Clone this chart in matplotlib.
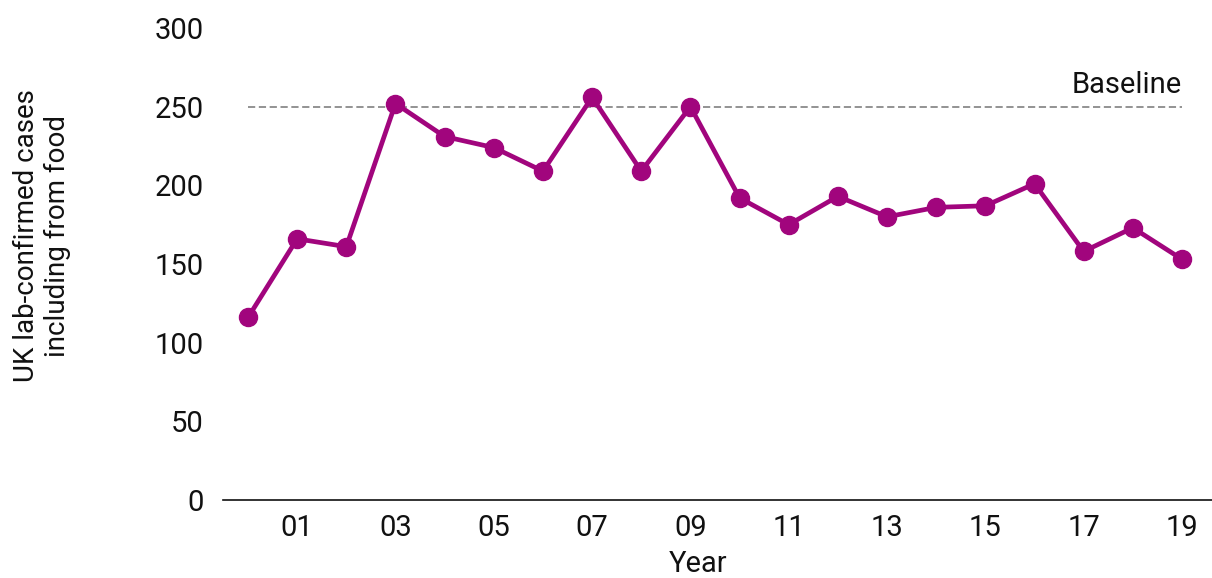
import numpy as np
import matplotlib.pyplot as plt

plt.rcParams['font.family'] = ['Roboto', 'DejaVu Sans']

# data
years = list(range(2000, 2020))
cases = [116, 166, 161, 252, 231, 224, 209, 256, 209, 250,
         192, 175, 193, 180, 186, 187, 201, 158, 173, 153]
baseline = 250
tick_years = list(range(2001, 2020, 2))
tick_labels = ['%02d' % (y % 100) for y in tick_years]
ylabel = 'UK lab-confirmed cases\nincluding from food'

purple = '#A1057D'
fs = 21

fig = plt.figure(figsize=(12.12, 5.78), dpi=100)
ax = fig.add_axes([223/1212, 1 - 500/578, 1 - 223/1212, 472/578])

ax.plot([years[0], years[-1]], [baseline, baseline], color='#8a8a8a',
        lw=1.3, ls=(0, (4, 2)), zorder=1)
ax.text(years[-1], baseline + 5, 'Baseline', ha='right', va='bottom',
        fontsize=fs, color='#111111')

ax.plot(years, cases, color=purple, lw=3.4, marker='o', ms=13, zorder=3)

ax.set_xlim(2000 - 25/49.16, 2019 + 30/49.16)
ax.set_ylim(0, 300)
ax.set_yticks(range(0, 301, 50))
ax.set_xticks(tick_years)
ax.set_xticklabels(tick_labels)
ax.tick_params(axis='both', length=0, labelsize=fs, colors='#111111')
ax.tick_params(axis='y', pad=14)
ax.tick_params(axis='x', pad=10)

for s in ['top', 'right', 'left']:
    ax.spines[s].set_visible(False)
ax.spines['bottom'].set_linewidth(1.2)
ax.spines['bottom'].set_color('#111111')

fig.text(42/1212, 1 - 236/578, ylabel, rotation=90, ha='center',
         va='center', fontsize=20, color='#111111', linespacing=1.15)
fig.text(698/1212, 1 - 564/578, 'Year', ha='center', va='center',
         fontsize=fs, color='#111111')

fig.savefig('out.png', dpi=100)
